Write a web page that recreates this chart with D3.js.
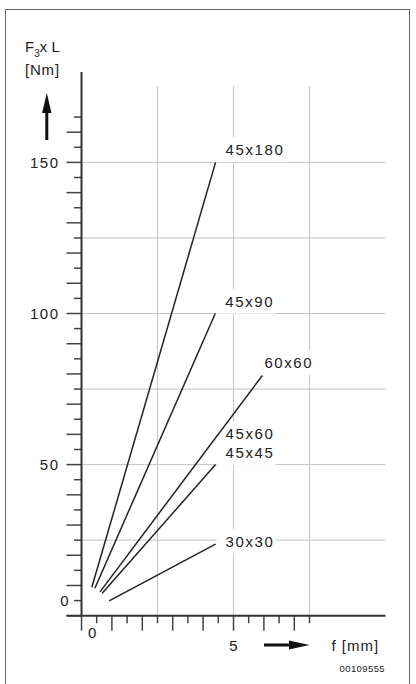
<!DOCTYPE html>
<html>
<head>
<meta charset="utf-8">
<script src="https://cdn.jsdelivr.net/npm/d3@7/dist/d3.min.js"></script>
<style>
  body { margin: 0; background: #fff; }
  svg { display: block; }
  text { font-family: "Liberation Sans", Arial, sans-serif; fill: #222; }
</style>
</head>
<body>
<svg width="416" height="684"></svg>
<script>
// line data: deflection f [mm] vs moment F3 x L [Nm]
var profiles = ["45x180", "45x90", "60x60", "45x45", "30x30"];
var startF = [0.34, 0.44, 0.61, 0.68, 0.91];
var startM = [9.4, 9.1, 7.9, 7.4, 4.9];
var endF = [4.41, 4.40, 5.95, 4.41, 4.41];
var endM = [150, 100, 79.5, 50, 23.7];

// labels (45x60 sits on the 60x60 line)
var labelText = ["45x180", "45x90", "60x60", "45x60", "45x45", "30x30"];
var labelF = [4.41, 4.40, 5.95, 4.41, 4.41, 4.41];
var labelM = [150, 100, 79.5, 59, 50, 23.7];

var yTickLabels = [50, 100, 150];
var xTickLabels = [5];
var gridM = [25, 50, 75, 100, 125, 150];
var gridF = [2.5, 5, 7.5];

var svg = d3.select("svg");

var x = d3.scaleLinear().domain([0, 10]).range([81.5, 385.5]);
var y = d3.scaleLinear().domain([0, 150]).range([615.7, 162.4]);

// frame
svg.append("rect")
    .attr("x", 5.5).attr("y", 9.5)
    .attr("width", 404).attr("height", 690)
    .style("fill", "none").style("stroke", "#666").style("stroke-width", 1);

// grid
svg.append("g")
    .selectAll("line")
    .data(gridM)
    .enter().append("line")
      .attr("x1", x(0)).attr("x2", x(10))
      .attr("y1", d => y(d)).attr("y2", d => y(d))
      .style("stroke", "#c4c4c4").style("stroke-width", 1);

svg.append("g")
    .selectAll("line")
    .data(gridF)
    .enter().append("line")
      .attr("x1", d => x(d)).attr("x2", d => x(d))
      .attr("y1", 86).attr("y2", y(0))
      .style("stroke", "#c4c4c4").style("stroke-width", 1);

// label backgrounds + text
var dx = [10, 10, 2, 10, 10, 10];
var dy = [-7.3, -6.8, -7.3, 2, -6.3, 2.6];

var labels = svg.append("g");
var labelBg = labels.append("g");
var lines = svg.append("g");
var labelFg = svg.append("g");

labelFg.selectAll("text")
    .data(labelText)
    .enter().append("text")
      .attr("x", (d, i) => x(labelF[i]) + dx[i])
      .attr("y", (d, i) => y(labelM[i]) + dy[i])
      .attr("letter-spacing", 1.6)
      .style("font-size", "15px")
      .text(d => d)
      .each(function() {
        var b = this.getBBox();
        labelBg.append("rect")
          .attr("x", b.x - 9).attr("y", b.y - 4)
          .attr("width", b.width + 10).attr("height", b.height + 8)
          .style("fill", "#fff");
      });

// data lines
lines.selectAll("line")
    .data(profiles)
    .enter().append("line")
      .attr("x1", (d, i) => x(startF[i]))
      .attr("y1", (d, i) => y(startM[i]))
      .attr("x2", (d, i) => x(endF[i]))
      .attr("y2", (d, i) => y(endM[i]))
      .style("stroke", "#222").style("stroke-width", 1.5);

// y axis ticks
var yTicks = d3.range(0, 166, 5);
svg.append("g")
    .selectAll("line")
    .data(yTicks)
    .enter().append("line")
      .attr("x1", d => d % 10 === 0 ? x(0) - 15 : x(0) - 7.5)
      .attr("x2", x(0))
      .attr("y1", d => y(d)).attr("y2", d => y(d))
      .style("stroke", "#444").style("stroke-width", 1.5);

// x axis ticks
var xTicks = d3.range(0, 7.6, 0.5);
svg.append("g")
    .selectAll("line")
    .data(xTicks)
    .enter().append("line")
      .attr("x1", d => x(d)).attr("x2", d => x(d))
      .attr("y1", y(0))
      .attr("y2", d => Math.abs(d % 1) < 0.01 ? y(0) + 15 : y(0) + 7.5)
      .style("stroke", "#444").style("stroke-width", 1.5);

// axis lines
svg.append("line")
    .attr("x1", x(0)).attr("x2", x(0))
    .attr("y1", 72).attr("y2", y(0))
    .style("stroke", "#333").style("stroke-width", 2);
svg.append("line")
    .attr("x1", x(0) - 15).attr("x2", x(10))
    .attr("y1", y(0)).attr("y2", y(0))
    .style("stroke", "#333").style("stroke-width", 2);

// tick labels
svg.append("g")
    .selectAll("text")
    .data(yTickLabels)
    .enter().append("text")
      .attr("x", x(0) - 22).attr("y", d => y(d) + 5.5)
      .attr("text-anchor", "end")
      .attr("letter-spacing", 1.5)
      .style("font-size", "15px")
      .text(d => d);
// the zero labels sit off the corner, as in the original
svg.append("text")
    .attr("x", x(0) - 13).attr("y", y(5) + 5.5)
    .attr("text-anchor", "end")
    .style("font-size", "15px")
    .text("0");
svg.append("text")
    .attr("x", x(0.35)).attr("y", y(0) + 22.5)
    .attr("text-anchor", "middle")
    .style("font-size", "15px")
    .text("0");
svg.append("g")
    .selectAll("text")
    .data(xTickLabels)
    .enter().append("text")
      .attr("x", d => x(d)).attr("y", y(0) + 35)
      .attr("text-anchor", "middle")
      .style("font-size", "15px")
      .text(d => d);

// axis titles
var yt = svg.append("text")
    .attr("x", 25).attr("y", 51.7)
    .style("font-size", "15px");
yt.append("tspan").text("F");
yt.append("tspan").attr("dy", 5).style("font-size", "10px").text("3");
yt.append("tspan").attr("dy", -5).text("x L");
svg.append("text")
    .attr("x", 25).attr("y", 75)
    .attr("letter-spacing", 0.8)
    .style("font-size", "15px")
    .text("[Nm]");

svg.append("text")
    .attr("x", 331.5).attr("y", 650.5)
    .attr("letter-spacing", 1)
    .style("font-size", "15px")
    .text("f [mm]");

svg.append("text")
    .attr("x", 385).attr("y", 671.5)
    .attr("text-anchor", "end")
    .attr("letter-spacing", 0.4)
    .style("font-size", "9.5px")
    .text("00109555");

// arrows
svg.append("rect")
    .attr("x", 45.3).attr("y", 108).attr("width", 3).attr("height", 32)
    .style("fill", "#111");
svg.append("path")
    .attr("d", "M46.8,93 L51.5,113 L42.1,113 Z")
    .style("fill", "#111");
svg.append("rect")
    .attr("x", 264).attr("y", 643.5).attr("width", 28).attr("height", 3)
    .style("fill", "#111");
svg.append("path")
    .attr("d", "M309.5,645 L289,640.5 L289,649.5 Z")
    .style("fill", "#111");
</script>
</body>
</html>
